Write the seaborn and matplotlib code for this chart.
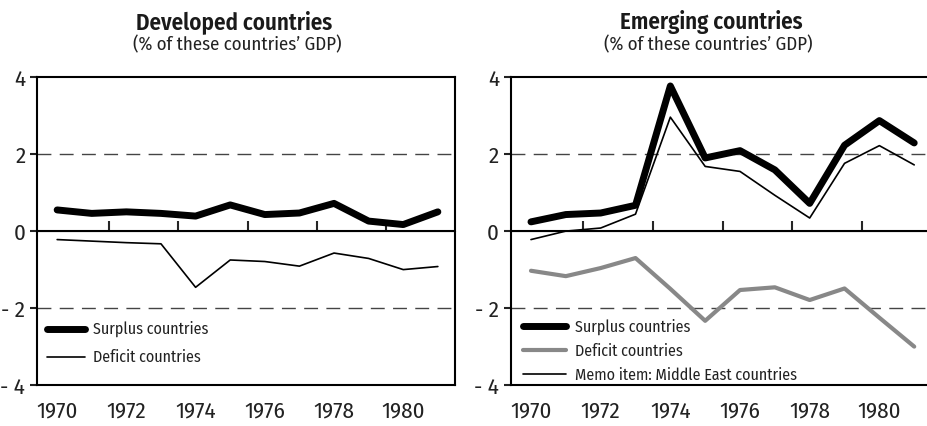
import numpy as np
import pandas as pd
import seaborn as sns
import matplotlib.pyplot as plt

years = list(range(1970, 1982))

dev_surplus = [0.55, 0.46, 0.50, 0.46, 0.39, 0.68, 0.43, 0.47, 0.72, 0.26, 0.17, 0.50]
dev_deficit = [-0.22, -0.26, -0.30, -0.33, -1.46, -0.75, -0.79, -0.91, -0.57, -0.71, -1.00, -0.92]

emg_surplus = [0.24, 0.43, 0.47, 0.67, 3.77, 1.90, 2.09, 1.59, 0.72, 2.23, 2.87, 2.29]
emg_deficit = [-1.03, -1.17, -0.96, -0.70, -1.50, -2.33, -1.53, -1.46, -1.79, -1.49, -2.25, -3.00]
emg_memo = [-0.22, 0.00, 0.08, 0.44, 2.96, 1.68, 1.55, 0.93, 0.34, 1.76, 2.22, 1.72]

x_labels = [1970, 1972, 1974, 1976, 1978, 1980]
zero_ticks = [1971.5, 1973.5, 1975.5, 1977.5, 1979.5]
y_ticks = [-4, -2, 0, 2, 4]
y_labels = ["- 4", "- 2", "0", "2", "4"]

sns.set_style("white")
plt.rcParams["font.family"] = ["Fira Sans Condensed", "Asap Condensed", "Archivo Narrow", "DejaVu Sans"]

fig = plt.figure(figsize=(9.27, 4.26), dpi=100)
ax1 = fig.add_axes([0.040, 0.096, 0.451, 0.723])
ax2 = fig.add_axes([0.551, 0.096, 0.454, 0.723])

df_dev = pd.DataFrame({"Year": years, "Surplus": dev_surplus, "Deficit": dev_deficit})
df_emg = pd.DataFrame({"Year": years, "Surplus": emg_surplus, "Deficit": emg_deficit, "Memo": emg_memo})

sns.lineplot(data=df_dev, x="Year", y="Surplus", ax=ax1, color="black", lw=5.0,
             label="Surplus countries")
sns.lineplot(data=df_dev, x="Year", y="Deficit", ax=ax1, color="black", lw=1.2,
             label="Deficit countries")

sns.lineplot(data=df_emg, x="Year", y="Surplus", ax=ax2, color="black", lw=5.0,
             label="Surplus countries")
sns.lineplot(data=df_emg, x="Year", y="Deficit", ax=ax2, color="#888888", lw=3.0,
             label="Deficit countries")
sns.lineplot(data=df_emg, x="Year", y="Memo", ax=ax2, color="black", lw=1.2,
             label="Memo item: Middle East countries")

for ax in (ax1, ax2):
    ax.set_xlim(1969.42, 1981.5)
    ax.set_ylim(-4, 4)
    ax.set_xlabel("")
    ax.set_ylabel("")
    for s in ax.spines.values():
        s.set_linewidth(1.5)
        s.set_color("black")
    ax.axhline(2, color="#444444", lw=1.0, ls=(0, (10, 6)), zorder=1)
    ax.axhline(-2, color="#444444", lw=1.0, ls=(0, (10, 6)), zorder=1)
    ax.axhline(0, color="black", lw=1.5, zorder=2)
    ax.set_yticks(y_ticks)
    ax.set_yticklabels(y_labels)
    ax.set_xticks(x_labels)
    ax.set_xticklabels([str(v) for v in x_labels])
    ax.tick_params(axis="y", left=True, direction="out", length=5, width=1.5,
                   labelsize=16.5, pad=3.5, colors="#222222")
    ax.tick_params(axis="x", bottom=False, labelsize=16.5, pad=8, colors="#222222")
    sec = ax.secondary_xaxis(0.5)
    sec.set_xticks(zero_ticks)
    sec.set_xticklabels([])
    sec.tick_params(direction="out", length=7, width=1.5)
    sec.spines["bottom"].set_linewidth(1.5)

leg1 = ax1.legend(loc="upper left", bbox_to_anchor=(0.024, 0.2075), frameon=False,
                  fontsize=11.5, handlelength=2.4, handletextpad=0.5,
                  labelspacing=0.75, borderpad=0, borderaxespad=0)
leg2 = ax2.legend(loc="upper left", bbox_to_anchor=(0.0285, 0.215), frameon=False,
                  fontsize=11.5, handlelength=2.7, handletextpad=0.55,
                  labelspacing=0.5, borderpad=0, borderaxespad=0)
for leg in (leg1, leg2):
    for t in leg.get_texts():
        t.set_color("#222222")

ax2.spines["right"].set_visible(False)

fig.text(234 / 927, 1 - 29 / 426, "Developed countries", ha="center", va="baseline",
         fontsize=16.5, fontweight="semibold", color="#1a1a1a")
fig.text(237 / 927, 1 - 50 / 426, "(% of these countries\u2019 GDP)", ha="center",
         va="baseline", fontsize=13.5, color="#222222")
fig.text(711 / 927, 1 - 29 / 426, "Emerging countries", ha="center", va="baseline",
         fontsize=16.5, fontweight="semibold", color="#1a1a1a")
fig.text(708 / 927, 1 - 50 / 426, "(% of these countries\u2019 GDP)", ha="center",
         va="baseline", fontsize=13.5, color="#222222")

fig.savefig("out.png", dpi=100)
